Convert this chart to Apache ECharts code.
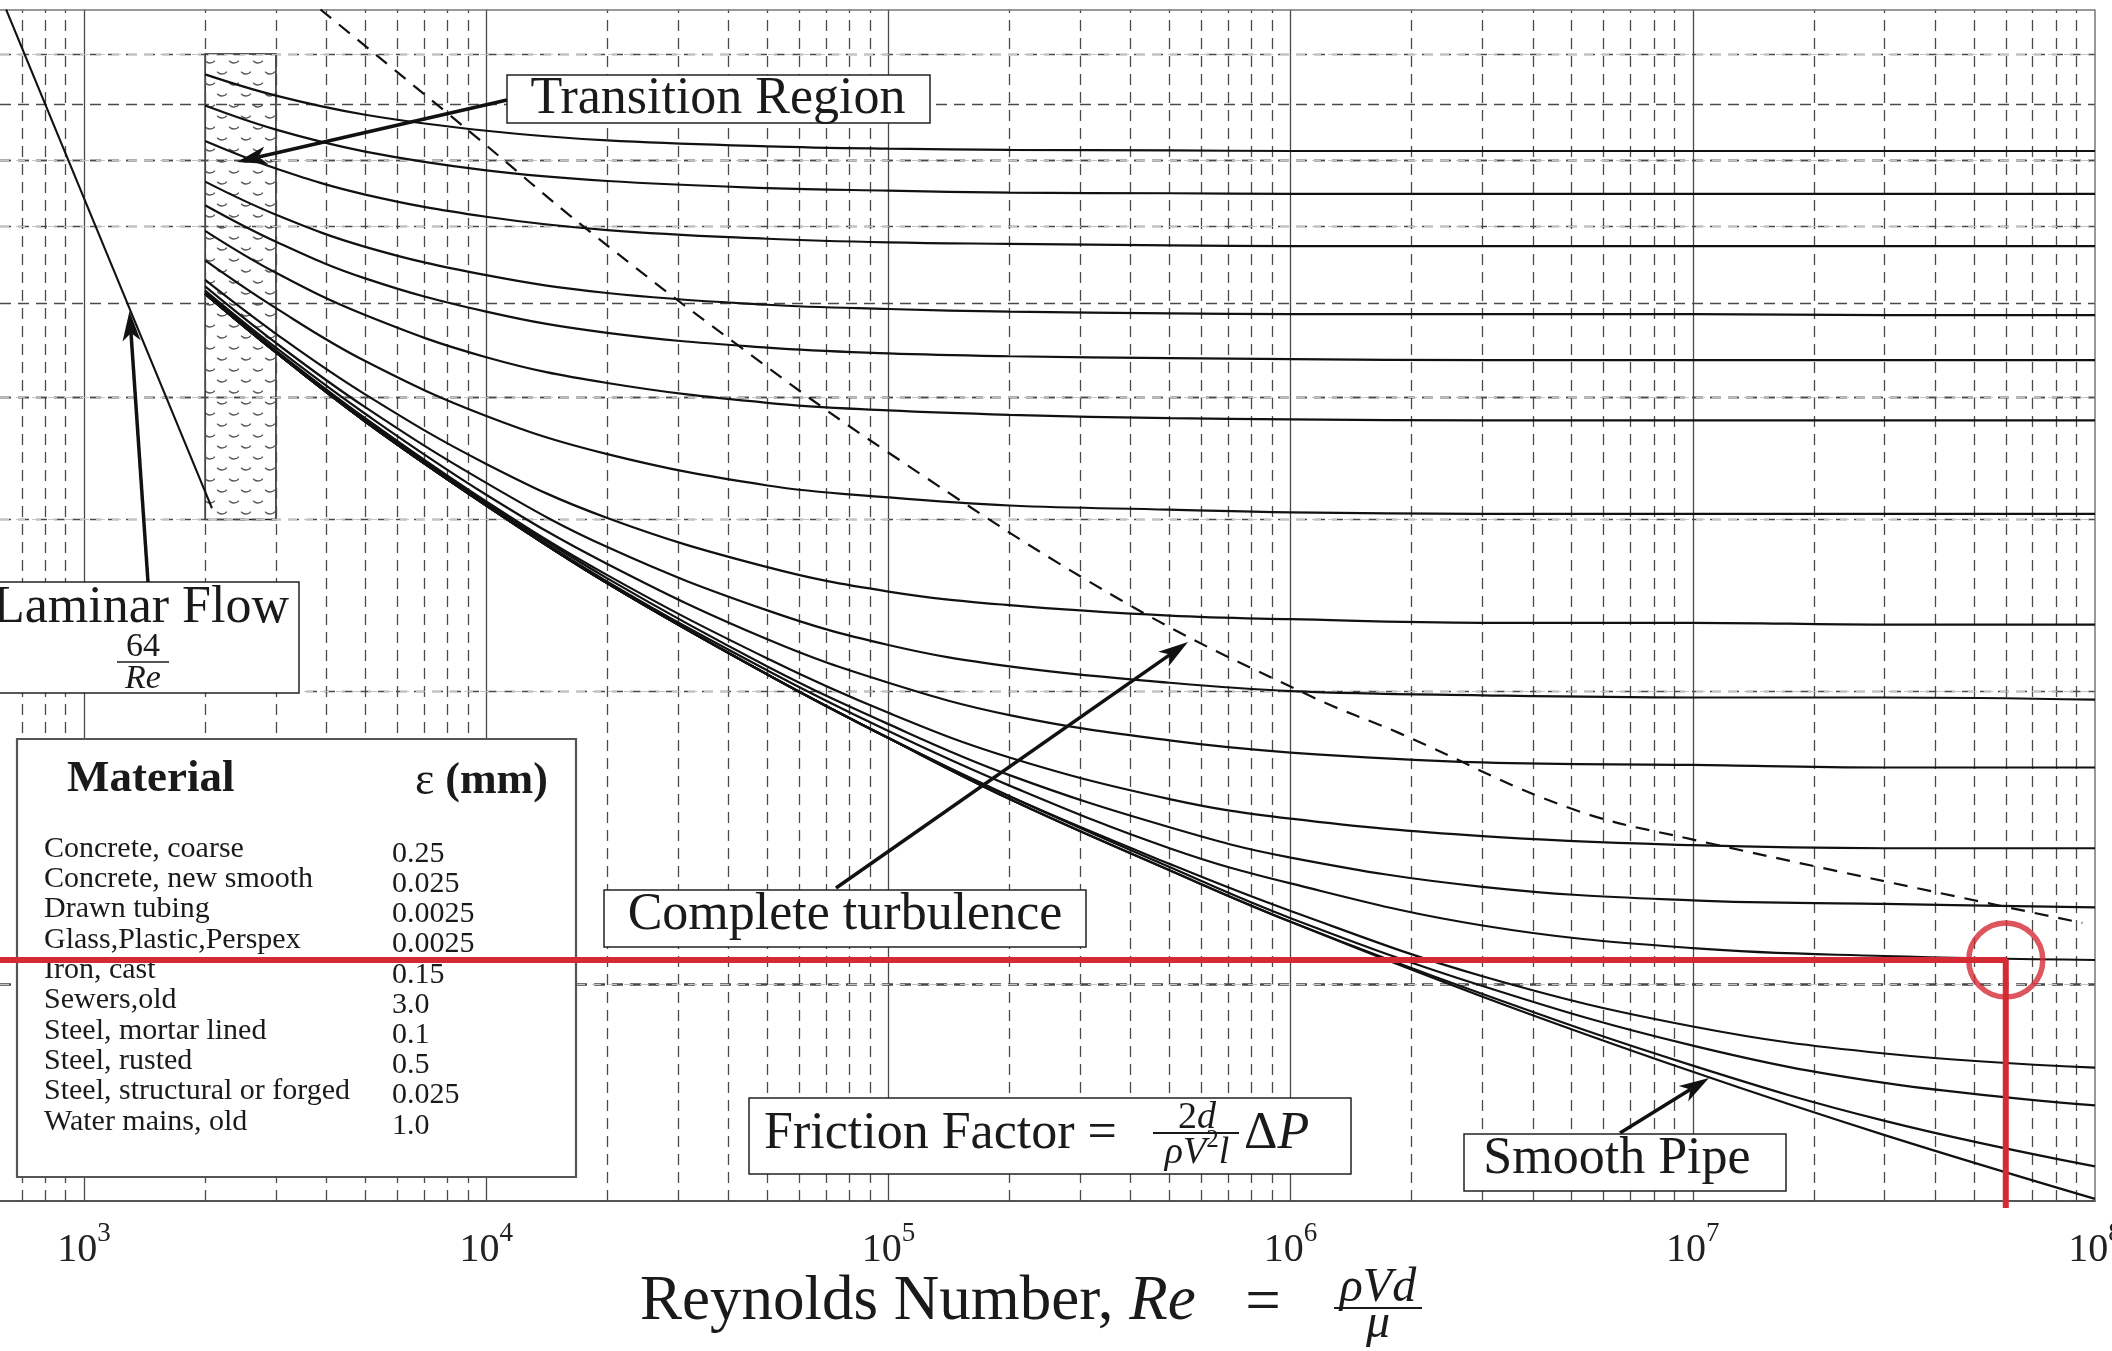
<!DOCTYPE html>
<html>
<head>
<meta charset="utf-8">
<title>Moody diagram</title>
<script src="https://cdn.jsdelivr.net/npm/echarts@6/dist/echarts.min.js"></script>
<style>
  html, body { margin: 0; padding: 0; background: #fff; overflow: hidden; width: 2112px; height: 1351px; }
  #chart { width: 2112px; height: 1351px; }
</style>
</head>
<body>
<div id="chart"></div>
<script>
const reynolds = [2000, 3000, 5000, 1e4, 2e4, 5e4, 1e5, 2e5, 5e5, 1e6, 3e6, 1e7, 3e7, 1e8];

// friction factor along each relative roughness curve, top to bottom
const rough0500 = [0.0858, 0.0816, 0.0780, 0.0751, 0.0734, 0.0724, 0.0720, 0.0718, 0.0717, 0.0716, 0.0716, 0.0716, 0.0716, 0.0716];
const rough0400 = [0.0797, 0.0753, 0.0715, 0.0684, 0.0667, 0.0656, 0.0652, 0.0649, 0.0648, 0.0647, 0.0647, 0.0647, 0.0647, 0.0647];
const rough0300 = [0.0733, 0.0687, 0.0646, 0.0613, 0.0594, 0.0582, 0.0577, 0.0575, 0.0573, 0.0572, 0.0572, 0.0572, 0.0572, 0.0572];
const rough0200 = [0.0666, 0.0616, 0.0571, 0.0534, 0.0512, 0.0498, 0.0493, 0.0490, 0.0488, 0.0487, 0.0487, 0.0487, 0.0486, 0.0486];
const rough0150 = [0.0630, 0.0578, 0.0530, 0.0490, 0.0466, 0.0450, 0.0444, 0.0441, 0.0439, 0.0438, 0.0437, 0.0437, 0.0437, 0.0437];
const rough0100 = [0.0593, 0.0537, 0.0486, 0.0440, 0.0414, 0.0395, 0.0388, 0.0384, 0.0381, 0.0380, 0.0379, 0.0379, 0.0379, 0.0379];
const rough0050 = [0.0553, 0.0494, 0.0436, 0.0383, 0.0350, 0.0325, 0.0316, 0.0310, 0.0307, 0.0305, 0.0304, 0.0304, 0.0304, 0.0304];
const rough0020 = [0.0528, 0.0465, 0.0403, 0.0342, 0.0301, 0.0268, 0.0253, 0.0245, 0.0239, 0.0237, 0.0235, 0.0235, 0.0234, 0.0234];
const rough0010 = [0.0520, 0.0455, 0.0391, 0.0327, 0.0281, 0.0242, 0.0223, 0.0212, 0.0204, 0.0200, 0.0198, 0.0197, 0.0197, 0.0196];
const rough0005 = [0.0515, 0.0450, 0.0385, 0.0318, 0.0270, 0.0226, 0.0204, 0.0189, 0.0178, 0.0173, 0.0169, 0.0168, 0.0167, 0.0167];
const rough0002 = [0.0513, 0.0447, 0.0381, 0.0313, 0.0263, 0.0216, 0.0190, 0.0171, 0.0155, 0.0148, 0.0142, 0.0139, 0.0138, 0.0138];
const rough0001 = [0.0512, 0.0446, 0.0380, 0.0312, 0.0261, 0.0212, 0.0185, 0.0164, 0.0145, 0.0135, 0.0126, 0.0122, 0.0121, 0.0120];
const rough00005 = [0.0511, 0.0445, 0.0379, 0.0311, 0.0259, 0.0210, 0.0182, 0.0160, 0.0138, 0.0127, 0.0115, 0.0109, 0.0107, 0.0106];
const rough00001 = [0.0511, 0.0445, 0.0378, 0.0310, 0.0258, 0.0208, 0.0179, 0.0156, 0.0133, 0.0119, 0.0102, 0.00906, 0.00850, 0.00822];
const rough000005 = [0.0511, 0.0445, 0.0378, 0.0310, 0.0258, 0.0208, 0.0179, 0.0156, 0.0132, 0.0117, 0.00997, 0.00866, 0.00793, 0.00752];
const rough000001 = [0.0511, 0.0445, 0.0378, 0.0310, 0.0258, 0.0208, 0.0179, 0.0155, 0.0131, 0.0116, 0.00978, 0.00826, 0.00725, 0.00651];
const smoothPipe = [0.0511, 0.0445, 0.0378, 0.0310, 0.0258, 0.0208, 0.0179, 0.0155, 0.0131, 0.0116, 0.00972, 0.00814, 0.00701, 0.00603];

// laminar line (64/Re) end points
const laminarRe = [640, 2080];
const laminarF = [0.1, 0.0308];

// dashed "complete turbulence" boundary
const turbRe = [3870, 9010, 17900, 41800, 99200, 378000, 1.11e6, 1.87e6, 4.88e6, 9.9e6, 9.3e7];
const turbF = [0.1, 0.0752, 0.0594, 0.0454, 0.0352, 0.0248, 0.0198, 0.0181, 0.0152, 0.0141, 0.01157];

// red read-off: horizontal at f, vertical at Re
const readRe = 6e7;
const readF = 0.0106;

// grid
const mantissas = [1, 2, 3, 4, 5, 6, 7, 8, 9];
const decades = [100, 1e3, 1e4, 1e5, 1e6, 1e7];
const fGridMajor = [0.007, 0.008, 0.009, 0.01, 0.015, 0.02, 0.03, 0.04, 0.045, 0.05, 0.06, 0.07, 0.075, 0.08, 0.09];
const fGridMinor = [0.0125, 0.0175, 0.025, 0.035, 0.055, 0.065, 0.085];

// materials table
const materialNames = ['Concrete, coarse', 'Concrete, new smooth', 'Drawn tubing', 'Glass,Plastic,Perspex',
  'Iron, cast', 'Sewers,old', 'Steel, mortar lined', 'Steel, rusted', 'Steel, structural or forged', 'Water mains, old'];
const materialEps = ['0.25', '0.025', '0.0025', '0.0025', '0.15', '3.0', '0.1', '0.5', '0.025', '1.0'];

const SERIF = '"Liberation Serif", "Times New Roman", serif';
const INK = '#1a1a1a';
const RED = '#d42a34';

const curves = [rough0500, rough0400, rough0300, rough0200, rough0150, rough0100, rough0050, rough0020,
  rough0010, rough0005, rough0002, rough0001, rough00005, rough00001, rough000005, rough000001, smoothPipe];

// little "smile" hatch for the transition band
function makeHatch() {
  const c = document.createElement('canvas');
  c.width = 24; c.height = 22;
  const g = c.getContext('2d');
  g.strokeStyle = '#555';
  g.lineWidth = 1.3;
  [[6, 2], [18, 13]].forEach(([cx, cy]) => {
    g.beginPath();
    g.arc(cx, cy, 6, 0.2 * Math.PI, 0.8 * Math.PI);
    g.stroke();
  });
  return c;
}

const dashGrid = { color: '#4a4a4a', width: 1.3, type: [11, 7] };
const solidGrid = { color: '#4a4a4a', width: 1.3, type: 'solid' };
const gridMarks = [];
decades.forEach(d => mantissas.forEach(m => {
  const v = d * m;
  if (v > 618 && v < 1e8) gridMarks.push({ xAxis: v, lineStyle: m === 1 ? solidGrid : dashGrid });
}));
fGridMajor.forEach(v => gridMarks.push({ yAxis: v, lineStyle: dashGrid }));
fGridMinor.forEach(v => gridMarks.push({ yAxis: v, lineStyle: { color: '#c4c4c4', width: 1, type: [9, 7] } }));
gridMarks.push({ yAxis: 0.1, lineStyle: { color: '#777', width: 1.5, type: 'solid' } });
gridMarks.push({ xAxis: 1e8, lineStyle: { color: '#777', width: 1.5, type: 'solid' } });

const series = [];
series.push({
  type: 'line', data: [], silent: true, z: 1,
  markLine: { silent: true, z: 1, symbol: ['none', 'none'], label: { show: false }, animation: false, data: gridMarks },
  markArea: {
    silent: true, z: 1,
    itemStyle: { color: { image: makeHatch(), repeat: 'repeat' }, borderColor: '#222', borderWidth: 1.5 },
    data: [[{ xAxis: 2000, yAxis: 0.09 }, { xAxis: 3000, yAxis: 0.03 }]]
  }
});
series.push({
  type: 'line', silent: true, symbol: 'none', z: 3,
  data: laminarRe.map((r, i) => [r, laminarF[i]]),
  lineStyle: { color: '#111', width: 2 }
});
curves.forEach(fs => series.push({
  type: 'line', silent: true, symbol: 'none', z: 3, smooth: 0.4,
  data: reynolds.map((r, i) => [r, fs[i]]),
  lineStyle: { color: '#111', width: 2.2 }
}));
series.push({
  type: 'line', silent: true, symbol: 'none', z: 3, smooth: 0.4,
  data: turbRe.map((r, i) => [r, turbF[i]]),
  lineStyle: { color: '#111', width: 2.2, type: [14, 10] }
});
series.push({
  type: 'line', silent: true, symbol: 'none', z: 30, clip: false,
  data: [[618, readF], [readRe, readF], [readRe, 0.0059]],
  lineStyle: { color: RED, width: 6 }
});
series.push({
  type: 'scatter', silent: true, z: 31, symbol: 'circle', symbolSize: 74,
  data: [[readRe, readF]],
  itemStyle: { color: 'rgba(0,0,0,0)', borderColor: RED, borderWidth: 5.5 }
});

// annotation helpers
function box(x, y, w, h, stroke, lw) {
  return { type: 'rect', z: 20, silent: true, shape: { x, y, width: w, height: h },
    style: { fill: '#fff', stroke: stroke || '#222', lineWidth: lw || 1.5 } };
}
function text(x, y, str, size, align, extra) {
  return { type: 'text', z: 21, silent: true, x, y,
    style: Object.assign({ text: str, fontSize: size, fontFamily: SERIF, fill: INK, align: align || 'left', verticalAlign: 'middle' }, extra || {}) };
}
function arrow(x1, y1, x2, y2) {
  const a = Math.atan2(y2 - y1, x2 - x1), len = 30, half = 9;
  const bx = x2 - len * Math.cos(a), by = y2 - len * Math.sin(a);
  const px = -Math.sin(a) * half, py = Math.cos(a) * half;
  const nx = bx + 8 * Math.cos(a), ny = by + 8 * Math.sin(a);
  return [
    { type: 'line', z: 21, silent: true, shape: { x1, y1, x2: nx, y2: ny }, style: { stroke: '#111', lineWidth: 3.5 } },
    { type: 'polygon', z: 21, silent: true, shape: { points: [[x2, y2], [bx + px, by + py], [nx, ny], [bx - px, by - py]] }, style: { fill: '#111' } }
  ];
}
function hbar(x1, x2, y, w) {
  return { type: 'line', z: 21, silent: true, shape: { x1, y1: y, x2, y2: y }, style: { stroke: INK, lineWidth: w || 1.8 } };
}

const it = (size) => ({ fontSize: size, fontFamily: SERIF, fontStyle: 'italic' });
const up = (size) => ({ fontSize: size, fontFamily: SERIF });

const graphics = [];
// transition region
graphics.push(box(507, 75, 423, 48));
graphics.push(text(718, 99, 'Transition Region', 52, 'center'));
graphics.push(...arrow(507, 100, 237, 162));
// laminar flow
graphics.push(box(-5, 582, 304, 111));
graphics.push(text(141, 608, 'Laminar Flow', 52, 'center'));
graphics.push(text(143, 647, '64', 34, 'center'));
graphics.push(hbar(117, 169, 662, 1.6));
graphics.push(text(143, 679, 'Re', 34, 'center', { fontStyle: 'italic' }));
graphics.push(...arrow(148, 582, 129.5, 311));
// complete turbulence
graphics.push(box(604, 890, 482, 57));
graphics.push(text(845, 915, 'Complete turbulence', 52, 'center'));
graphics.push(...arrow(836, 888, 1188, 642));
// friction factor definition
graphics.push(box(749, 1098, 602, 76));
graphics.push(text(764, 1134, 'Friction Factor =', 52, 'left'));
graphics.push(text(1197, 1118, '{n|2}{i|d}', 38, 'center', { rich: { n: up(38), i: it(38) } }));
graphics.push(hbar(1153, 1239, 1133, 1.8));
graphics.push(text(1197, 1150, '{i|ρV}{s|2}{i|l}', 38, 'center', {
  rich: { i: Object.assign(it(38), { lineHeight: 44, verticalAlign: 'bottom' }), s: Object.assign(up(25), { lineHeight: 24, verticalAlign: 'top' }) }
}));
graphics.push(text(1244, 1134, '{n|Δ}{i|P}', 52, 'left', { rich: { n: up(52), i: it(52) } }));
// smooth pipe
graphics.push(box(1464, 1134, 322, 57));
graphics.push(text(1617, 1159, 'Smooth Pipe', 52, 'center'));
graphics.push(...arrow(1620, 1133, 1709, 1078));
// materials table
graphics.push(box(17, 739, 559, 438, '#555', 2.2));
graphics.push(text(67, 779, 'Material', 45, 'left', { fontWeight: 'bold' }));
graphics.push(text(415, 782, '{e|ε} {b|(mm)}', 44, 'left', {
  rich: { e: up(46), b: Object.assign(up(44), { fontWeight: 'bold' }) }
}));
materialNames.forEach((n, i) => {
  graphics.push(text(44, 849 + 30.3 * i, n, 30, 'left'));
  graphics.push(text(392, 854 + 30.2 * i, materialEps[i], 30, 'left'));
});
// x axis title
graphics.push(text(640, 1302, 'Reynolds Number, {i|Re}', 63, 'left', { rich: { i: it(63) } }));
graphics.push(text(1263, 1304, '=', 63, 'center'));
graphics.push(text(1378, 1288, 'ρVd', 48, 'center', { fontStyle: 'italic' }));
graphics.push(hbar(1334, 1422, 1308, 2));
graphics.push(text(1378, 1324, 'μ', 48, 'center', { fontStyle: 'italic' }));

const option = {
  animation: false,
  backgroundColor: '#fff',
  grid: { left: 0, right: 17, top: 9.5, bottom: 150, containLabel: false, outerBoundsMode: 'none' },
  xAxis: {
    type: 'log', logBase: 10, min: 618, max: 1e8, splitNumber: 6,
    axisLine: { show: true, onZero: false, lineStyle: { color: '#555', width: 2 } },
    axisTick: { show: false },
    splitLine: { show: false },
    axisLabel: {
      margin: 19, showMaxLabel: true, showMinLabel: false,
      formatter: (v) => {
        const e = Math.log10(v), r = Math.round(e);
        return Math.abs(e - r) < 1e-6 ? '{b|10}{s|' + r + '}' : '';
      },
      rich: {
        b: { fontSize: 40, fontFamily: SERIF, color: '#222', lineHeight: 50, verticalAlign: 'bottom' },
        s: { fontSize: 27, fontFamily: SERIF, color: '#222', lineHeight: 24, verticalAlign: 'top' }
      }
    }
  },
  yAxis: {
    type: 'log', logBase: 10, min: 0.006, max: 0.1,
    axisLine: { show: false }, axisTick: { show: false }, axisLabel: { show: false }, splitLine: { show: false }
  },
  series: series,
  graphic: { elements: graphics }
};

const chart = echarts.init(document.getElementById('chart'), null, { renderer: 'canvas' });
chart.setOption(option);
</script>
</body>
</html>
